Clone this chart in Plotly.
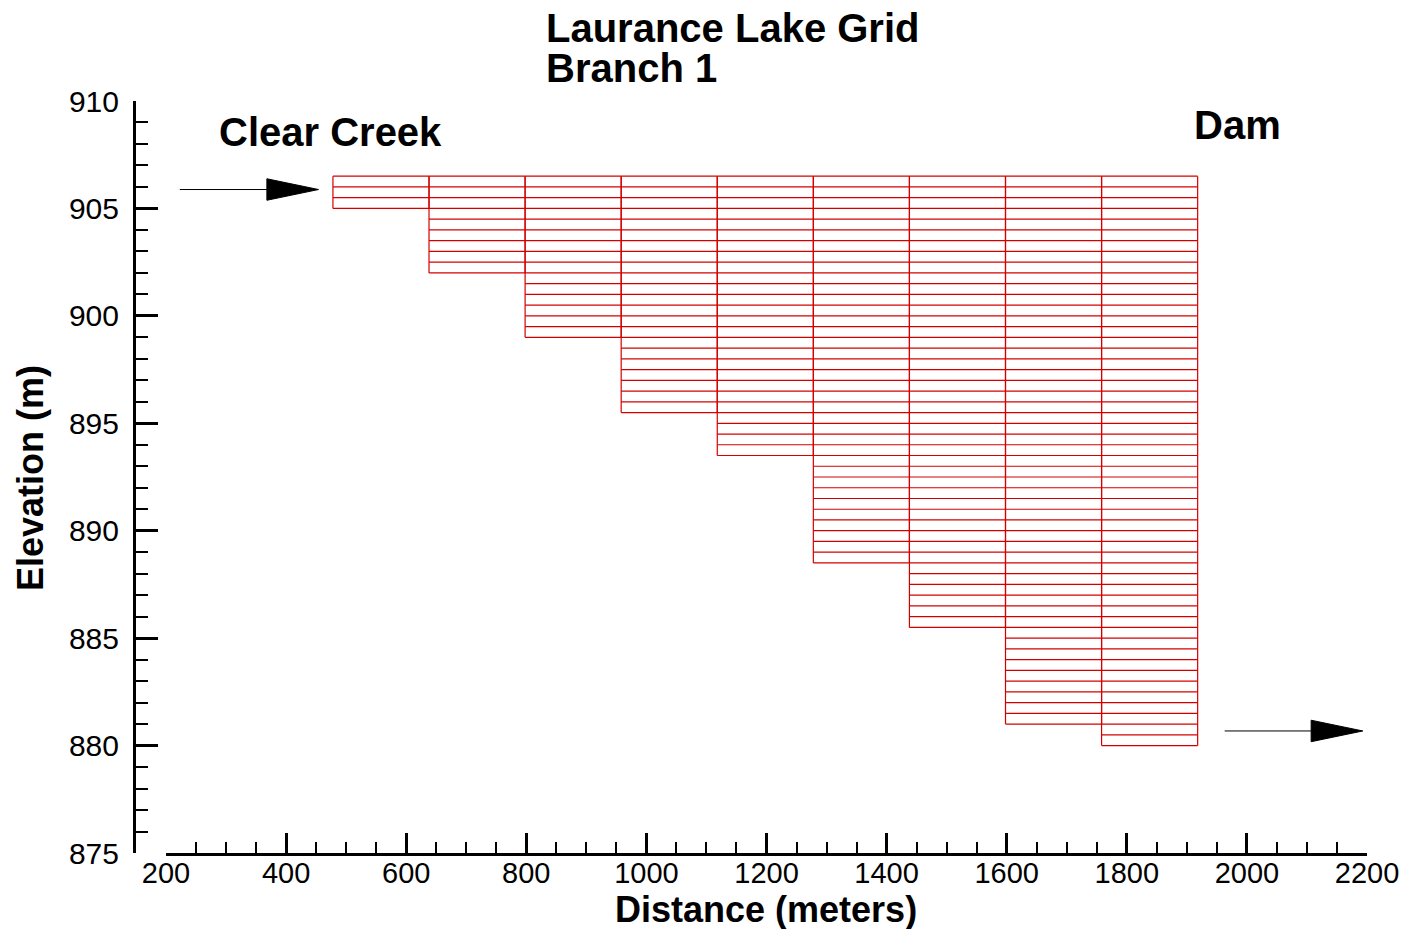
import plotly.graph_objects as go

# ---- data ----
segment_edges = [478, 638, 798, 958, 1118, 1278, 1438, 1598, 1758, 1918]  # m
segment_bottoms = [905.0, 902.0, 899.0, 895.5, 893.5, 888.5, 885.5, 881.0, 880.0]  # m
water_top = 906.5
layer_height = 0.5

# arrows (inflow / outflow), data coordinates
inflow_arrow_x = [223, 368, 454]      # tail, head base, tip
inflow_arrow_y = 905.88
outflow_arrow_x = [1963, 2107, 2193]
outflow_arrow_y = 880.68
arrow_half_height = 0.5

x_ticks = list(range(200, 2201, 200))
y_ticks = list(range(875, 911, 5))

FONT = "Liberation Sans, Arial, Helvetica, sans-serif"
RED = "rgb(212,0,0)"

# ---- build grid lines ----
gx, gy = [], []
for i, bot in enumerate(segment_bottoms):
    x0, x1 = segment_edges[i], segment_edges[i + 1]
    n = int(round((water_top - bot) / layer_height))
    for k in range(n + 1):
        yy = water_top - k * layer_height
        gx += [x0, x1, None]
        gy += [yy, yy, None]
    gx += [x0, x0, None, x1, x1, None]
    gy += [water_top, bot, None, water_top, bot, None]

fig = go.Figure()
fig.add_trace(go.Scatter(x=gx, y=gy, mode="lines",
                         line=dict(color=RED, width=1.2), hoverinfo="skip",
                         showlegend=False))

# arrows
for ax_, ay in [(inflow_arrow_x, inflow_arrow_y), (outflow_arrow_x, outflow_arrow_y)]:
    fig.add_trace(go.Scatter(x=[ax_[0], ax_[1]], y=[ay, ay], mode="lines",
                             line=dict(color="black", width=1), showlegend=False,
                             hoverinfo="skip"))
    fig.add_trace(go.Scatter(x=[ax_[1], ax_[2], ax_[1], ax_[1]],
                             y=[ay + arrow_half_height, ay, ay - arrow_half_height, ay + arrow_half_height],
                             mode="lines", fill="toself", fillcolor="black",
                             line=dict(color="black", width=1), showlegend=False,
                             hoverinfo="skip"))

W, H = 1406, 929
ml, mr, mt, mb = 134, 39, 101, 76
plot_w = W - ml - mr

fig.update_layout(
    width=W, height=H,
    margin=dict(l=ml, r=mr, t=mt, b=mb, autoexpand=False),
    paper_bgcolor="white", plot_bgcolor="white",
    font=dict(family=FONT, size=30, color="black"),
    showlegend=False,
    xaxis=dict(
        domain=[32 / plot_w, 1], range=[200, 2200], anchor="y", automargin=False,
        tickmode="array", tickvals=x_ticks, ticktext=[str(v) for v in x_ticks],
        showline=True, linecolor="black", linewidth=3,
        ticks="inside", ticklen=20, tickwidth=3, tickcolor="black",
        minor=dict(ticks="inside", ticklen=11, tickwidth=1.5, dtick=50, tick0=200, tickcolor="black"),
        showgrid=False, zeroline=False,
        tickfont=dict(family=FONT, size=29),
        ticklabelstandoff=-8,
    ),
    yaxis=dict(
        range=[875, 910], anchor="free", position=0, automargin=False,
        tickmode="array", tickvals=y_ticks, ticktext=[str(v) for v in y_ticks],
        showline=True, linecolor="black", linewidth=3,
        ticks="inside", ticklen=22, tickwidth=3, tickcolor="black",
        minor=dict(ticks="inside", ticklen=12, tickwidth=1.5, dtick=1, tick0=875, tickcolor="black"),
        showgrid=False, zeroline=False,
        tickfont=dict(family=FONT, size=30),
        ticklabelstandoff=8,
    ),
)

def pnote(text, px, py, size, xanchor="left", yanchor="middle", angle=0):
    fig.add_annotation(text=text, x=(px - ml) / plot_w, y=(H - mb - py) / (H - mt - mb),
                       xref="paper", yref="paper",
                       xanchor=xanchor, yanchor=yanchor, showarrow=False, textangle=angle,
                       borderpad=0,
                       font=dict(family=FONT, size=size, color="black", weight="bold"))

pnote("Laurance Lake Grid", 545, 28, 40)
pnote("Branch 1", 545, 68, 40)
pnote("Clear Creek", 218, 132, 40)
pnote("Dam", 1193, 125, 40)
pnote("Distance (meters)", 766, 909, 36, xanchor="center")
pnote("Elevation (m)", 30, 478, 36, xanchor="center", angle=-90)

fig.write_html("out.html")
